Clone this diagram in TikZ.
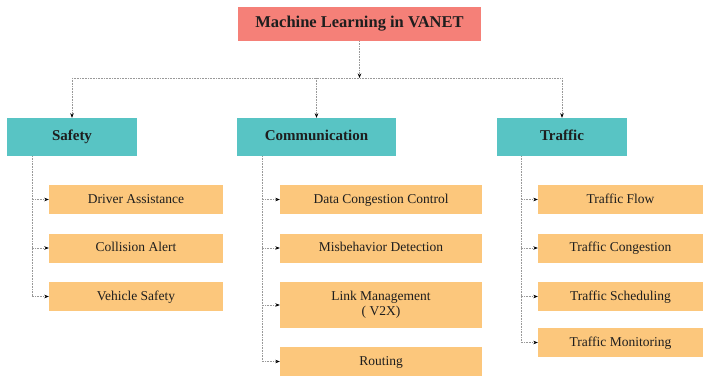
\documentclass[tikz,border=0pt]{standalone}
\usepackage{fontspec}
\setmainfont{Liberation Serif}
\usetikzlibrary{arrows.meta}
\definecolor{rootc}{RGB}{245,128,120}
\definecolor{catc}{RGB}{88,196,196}
\definecolor{leafc}{RGB}{252,199,124}
\definecolor{txt}{RGB}{30,30,30}
\tikzset{
  rootbox/.style={fill=rootc, draw=none, inner sep=0pt, minimum width=243pt, minimum height=34pt, text=txt, text height=0.9em, text depth=0.15em, font=\fontsize{16.5}{18}\selectfont\bfseries},
  catbox/.style={fill=catc, draw=none, inner sep=0pt, minimum height=38pt, text=txt, text height=0.9em, text depth=0.15em, font=\fontsize{15}{17}\selectfont\bfseries},
  leafbase/.style={fill=leafc, draw=none, inner sep=0pt, minimum height=29pt, text=txt, align=center, font=\fontsize{13.5}{15.5}\selectfont},
  leafbox/.style={leafbase, text height=0.9em, text depth=0.15em},
  conn/.style={draw=gray!80, line width=0.6pt, densely dotted},
  arr/.style={conn, -{Stealth[length=4.5pt,width=3.5pt,black]}}
}
\begin{document}
\begin{tikzpicture}[x=1pt,y=-1pt]
\useasboundingbox (0,0) rectangle (704,377);
\node[rootbox] (root) at (359.5,24) {Machine Learning in VANET};
\node[catbox, minimum width=130pt] (safety) at (72,137) {Safety};
\node[catbox, minimum width=159pt] (comm) at (316.5,137) {Communication};
\node[catbox, minimum width=130pt] (traffic) at (562,137) {Traffic};

\node[leafbox, minimum width=174pt] (da) at (136,199.5) {Driver Assistance};
\node[leafbox, minimum width=174pt] (ca) at (136,248) {Collision Alert};
\node[leafbox, minimum width=174pt] (vs) at (136,296.5) {Vehicle Safety};

\node[leafbox, minimum width=202pt] (dcc) at (381,199.5) {Data Congestion Control};
\node[leafbox, minimum width=202pt] (md) at (381,248) {Misbehavior Detection};
\node[leafbase, minimum width=202pt, minimum height=46pt] (lm) at (381,305) {Link Management\\( V2X)};
\node[leafbox, minimum width=202pt] (rt) at (381,361.5) {Routing};

\node[leafbox, minimum width=165pt] (tf) at (620.5,199.5) {Traffic Flow};
\node[leafbox, minimum width=165pt] (tc) at (620.5,248) {Traffic Congestion};
\node[leafbox, minimum width=165pt] (ts) at (620.5,296.5) {Traffic Scheduling};
\node[leafbox, minimum width=165pt] (tm) at (620.5,342.5) {Traffic Monitoring};

\coordinate (bus) at (0,78);
\draw[arr] (root.south) -- (root.south |- bus);
\draw[conn] (safety.north |- bus) -- (traffic.north |- bus);
\draw[arr] (safety.north |- bus) -- (safety.north);
\draw[arr] (comm.north |- bus) -- (comm.north);
\draw[arr] (traffic.north |- bus) -- (traffic.north);

\coordinate (st) at ([xshift=25pt]safety.south west);
\coordinate (ct) at ([xshift=25pt]comm.south west);
\coordinate (tt) at ([xshift=24pt]traffic.south west);
\draw[conn] (st) -- (st |- vs.west);
\foreach \n in {da,ca,vs} \draw[arr] (st |- \n.west) -- (\n.west);
\draw[conn] (ct) -- (ct |- rt.west);
\foreach \n in {dcc,md,lm,rt} \draw[arr] (ct |- \n.west) -- (\n.west);
\draw[conn] (tt) -- (tt |- tm.west);
\foreach \n in {tf,tc,ts,tm} \draw[arr] (tt |- \n.west) -- (\n.west);
\end{tikzpicture}
\end{document}
